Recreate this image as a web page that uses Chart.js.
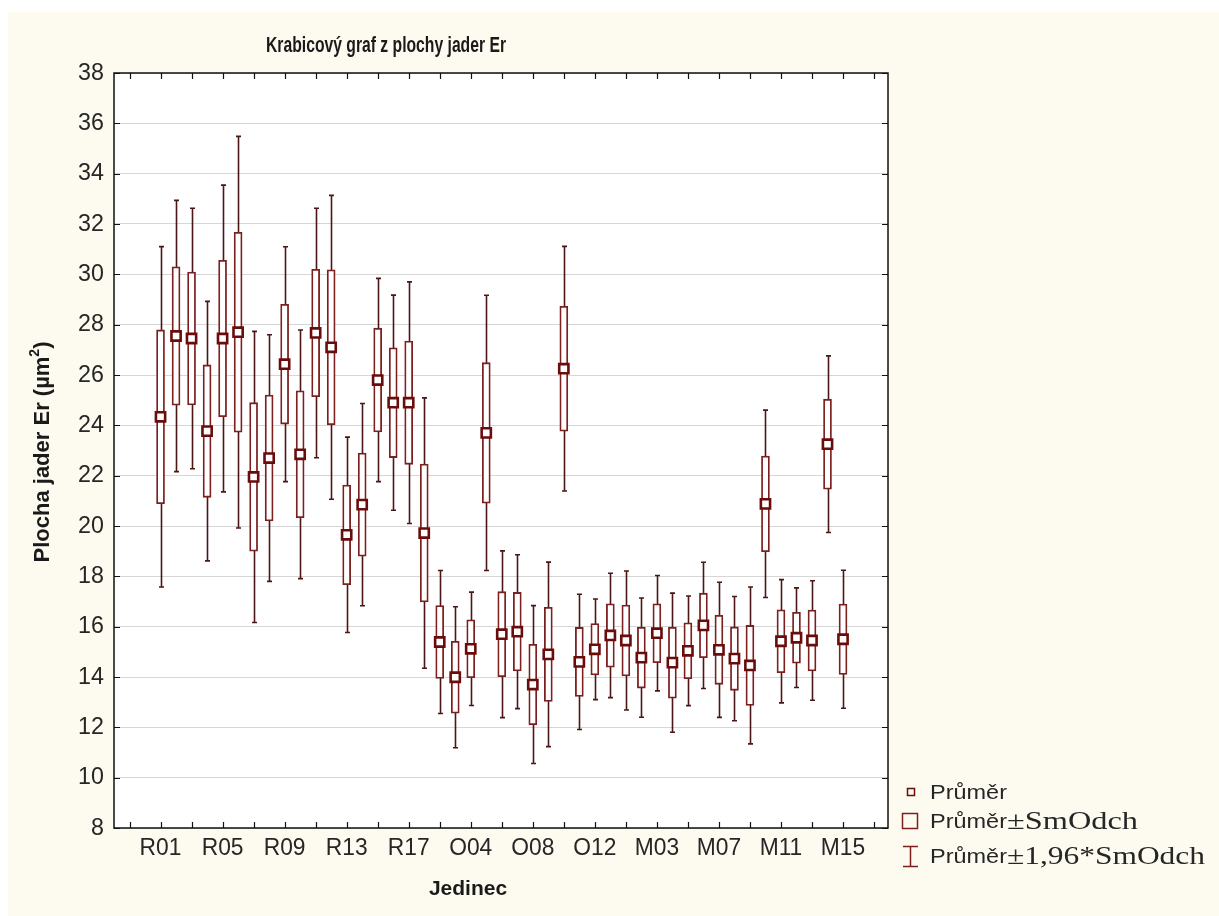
<!DOCTYPE html>
<html>
<head>
<meta charset="utf-8">
<title>Krabicový graf z plochy jader Er</title>
<script src="https://cdn.jsdelivr.net/npm/chart.js@4.4.1/dist/chart.umd.min.js"></script>
<style>
  html, body { margin: 0; padding: 0; background: #ffffff; }
  #wrap { position: relative; width: 1219px; height: 916px; }
  canvas { display: block; }
</style>
</head>
<body>
<div id="wrap"><canvas id="chart" width="1219" height="916"></canvas></div>
<script>
// Individuals (Jedinec): R01–R17, O01–O13, M01–M15
const categories = [
  'R01','R02','R03','R04','R05','R06','R07','R08','R09','R10','R11','R12','R13','R14','R15','R16','R17',
  'O01','O02','O03','O04','O05','O06','O07','O08','O09','O10','O11','O12','O13',
  'M01','M02','M03','M04','M05','M06','M07','M08','M09','M10','M11','M12','M13','M14','M15'
];

// Mean nucleus area (µm²) per individual
const means = [
  24.34, 27.55, 27.45, 23.77, 27.45, 27.70, 21.95, 22.70, 26.43, 22.85, 27.67, 27.10, 19.65, 20.85, 25.80, 24.90, 24.90,
  19.72, 15.39, 13.99, 15.12, 23.70, 15.70, 15.80, 13.70, 14.90, 26.25, 14.60, 15.10, 15.65,
  15.45, 14.77, 15.74, 14.57, 15.04, 16.05, 15.08, 14.73, 14.46, 20.88, 15.42, 15.56, 15.45, 23.25, 15.50
];

// Standard deviation (SmOdch) per individual
const sds = [
  3.45, 2.75, 2.64, 2.63, 3.11, 3.97, 2.95, 2.50, 2.38, 2.52, 2.53, 3.08, 1.98, 2.05, 2.06, 2.18, 2.45,
  2.74, 1.45, 1.43, 1.15, 2.79, 1.69, 1.56, 1.60, 1.87, 2.48, 1.37, 1.02, 1.26,
  1.41, 1.21, 1.17, 1.41, 1.11, 1.28, 1.37, 1.26, 1.59, 1.90, 1.25, 1.01, 1.21, 1.79, 1.40
];

// Labelled categories on the x axis and value ticks on the y axis
const xTickLabels = ['R01','R05','R09','R13','R17','O04','O08','O12','M03','M07','M11','M15'];
const yTickValues = [8,10,12,14,16,18,20,22,24,26,28,30,32,34,36,38];

const WHISKER_FACTOR = 1.96;   // Průměr ± 1,96*SmOdch

const BG_CREAM = '#fdfaef';
const BOX_COLOR = '#7c1f1f';
const MEAN_COLOR = '#6a0c0c';
const WHISKER_COLOR = '#4a1616';
const INK = '#262626';
const GRID = '#d6d6d6';

const boxData = categories.map((c, i) => ({ x: i, y: [means[i] - sds[i], means[i] + sds[i]] }));
const meanData = categories.map((c, i) => ({ x: i, y: means[i] }));

// Draw text, optionally squeezed horizontally to a given width
function drawText(ctx, text, x, y, font, opts = {}) {
  ctx.save();
  ctx.font = font;
  ctx.fillStyle = opts.color || INK;
  ctx.textBaseline = 'middle';
  ctx.textAlign = 'left';
  const natural = ctx.measureText(text).width;
  const k = opts.width ? opts.width / natural : (opts.k || 1);
  const w = natural * k;
  const align = opts.align || 'left';
  const x0 = align === 'right' ? x - w : align === 'center' ? x - w / 2 : x;
  ctx.translate(x0, y);
  ctx.scale(k, 1);
  ctx.fillText(text, 0, 0);
  ctx.restore();
  return w;
}

const decorPlugin = {
  id: 'statDecor',
  beforeDraw(chart) {
    const { ctx, chartArea: a, width, height } = chart;
    ctx.save();
    ctx.fillStyle = '#ffffff';
    ctx.fillRect(0, 0, width, height);
    ctx.fillStyle = BG_CREAM;
    ctx.fillRect(8, 12, width - 8, height - 12);
    ctx.fillStyle = '#ffffff';
    ctx.fillRect(a.left, a.top, a.right - a.left, a.bottom - a.top);
    ctx.restore();
  },
  beforeDatasetsDraw(chart) {
    // whiskers: mean ± 1.96·SD with short caps
    const { ctx, scales: { x, y } } = chart;
    ctx.save();
    ctx.strokeStyle = WHISKER_COLOR;
    ctx.lineWidth = 1.6;
    const cap = 2.5;
    categories.forEach((c, i) => {
      const px = Math.round(x.getPixelForValue(i)) + 0.5;
      const top = y.getPixelForValue(means[i] + WHISKER_FACTOR * sds[i]);
      const bot = y.getPixelForValue(means[i] - WHISKER_FACTOR * sds[i]);
      ctx.beginPath();
      ctx.moveTo(px, top); ctx.lineTo(px, bot);
      ctx.moveTo(px - cap, top); ctx.lineTo(px + cap, top);
      ctx.moveTo(px - cap, bot); ctx.lineTo(px + cap, bot);
      ctx.stroke();
    });
    ctx.restore();
  },
  afterDraw(chart) {
    const { ctx, chartArea: a, scales: { x, y } } = chart;
    ctx.save();

    // plot frame
    ctx.strokeStyle = '#111111';
    ctx.lineWidth = 1.5;
    ctx.strokeRect(a.left, a.top, a.right - a.left, a.bottom - a.top);

    // inward tick marks on all four sides
    ctx.lineWidth = 1.2;
    ctx.beginPath();
    yTickValues.forEach(v => {
      const py = Math.round(y.getPixelForValue(v)) + 0.5;
      ctx.moveTo(a.left, py); ctx.lineTo(a.left + 6, py);
      ctx.moveTo(a.right, py); ctx.lineTo(a.right - 6, py);
    });
    for (let i = -2; i <= 46; i += 2) {
      const px = Math.round(x.getPixelForValue(i)) + 0.5;
      ctx.moveTo(px, a.bottom); ctx.lineTo(px, a.bottom - 6);
      ctx.moveTo(px, a.top); ctx.lineTo(px, a.top + 6);
    }
    ctx.stroke();

    // y tick labels
    yTickValues.forEach(v => {
      drawText(ctx, String(v), a.left - 10, y.getPixelForValue(v), '24px "Liberation Sans", Arial, sans-serif', { align: 'right', k: 0.97 });
    });
    // x tick labels
    xTickLabels.forEach(lab => {
      const i = categories.indexOf(lab);
      drawText(ctx, lab, x.getPixelForValue(i), a.bottom + 20, '24px "Liberation Sans", Arial, sans-serif', { align: 'center', k: 0.95 });
    });

    // chart title
    drawText(ctx, 'Krabicový graf z plochy jader Er', 386, 46, 'bold 22px "Liberation Sans", Arial, sans-serif', { align: 'center', width: 240, color: '#1a1a1a' });

    // axis titles
    drawText(ctx, 'Jedinec', 468, 889, 'bold 21px "Liberation Sans", Arial, sans-serif', { align: 'center', color: '#1a1a1a' });
    ctx.save();
    ctx.translate(43, 452);
    ctx.rotate(-Math.PI / 2);
    const big = 'bold 22px "Liberation Sans", Arial, sans-serif';
    const sup = 'bold 14px "Liberation Sans", Arial, sans-serif';
    ctx.font = big;
    const t1 = 'Plocha jader Er (µm';
    const w1 = ctx.measureText(t1).width;
    const w2 = ctx.measureText(')').width;
    ctx.font = sup;
    const wSup = ctx.measureText('2').width;
    const total = w1 + wSup + w2;
    ctx.fillStyle = '#1a1a1a';
    ctx.textBaseline = 'middle';
    ctx.textAlign = 'left';
    ctx.font = big;
    ctx.fillText(t1, -total / 2, 0);
    ctx.font = sup;
    ctx.fillText('2', -total / 2 + w1, -8);
    ctx.font = big;
    ctx.fillText(')', -total / 2 + w1 + wSup, 0);
    ctx.restore();

    // legend
    const sans = '21px "Liberation Sans", Arial, sans-serif';
    const serif = '25px "Liberation Serif", "Times New Roman", serif';
    ctx.lineWidth = 1.5;
    ctx.strokeStyle = MEAN_COLOR;
    ctx.strokeRect(907.5, 788.5, 7, 7);
    drawText(ctx, 'Průměr', 930, 793, sans, { width: 77 });

    ctx.strokeStyle = BOX_COLOR;
    ctx.strokeRect(902.5, 813.5, 15, 15);
    let w = drawText(ctx, 'Průměr', 930, 822, sans, { width: 77 });
    drawText(ctx, '±SmOdch', 930 + w, 822, serif, { width: 1138 - 930 - w });

    ctx.strokeStyle = BOX_COLOR;
    ctx.beginPath();
    ctx.moveTo(910.5, 846); ctx.lineTo(910.5, 866);
    ctx.moveTo(903, 846.5); ctx.lineTo(918, 846.5);
    ctx.moveTo(903, 866.5); ctx.lineTo(918, 866.5);
    ctx.stroke();
    w = drawText(ctx, 'Průměr', 930, 857, sans, { width: 77 });
    drawText(ctx, '±1,96*SmOdch', 930 + w, 857, serif, { width: 1205 - 930 - w });

    ctx.restore();
  }
};

new Chart(document.getElementById('chart'), {
  type: 'bar',
  data: {
    datasets: [
      {
        type: 'scatter',
        label: 'Průměr',
        data: meanData,
        pointStyle: 'rect',
        pointRadius: 6.5,
        pointBorderWidth: 2.6,
        borderColor: MEAN_COLOR,
        backgroundColor: '#ffffff',
        order: 1
      },
      {
        type: 'bar',
        label: 'Průměr±SmOdch',
        data: boxData,
        backgroundColor: '#ffffff',
        borderColor: BOX_COLOR,
        borderWidth: 1.8,
        borderSkipped: false,
        barThickness: 8,
        order: 2
      }
    ]
  },
  options: {
    responsive: false,
    animation: false,
    devicePixelRatio: 1,
    layout: { padding: { left: 0, top: 73, right: 1219 - 888, bottom: 0 } },
    plugins: {
      legend: { display: false },
      title: { display: false },
      tooltip: { enabled: false }
    },
    scales: {
      x: {
        type: 'linear',
        offset: false,
        min: -3,
        max: 46.9,
        grid: { display: false, drawTicks: false, offset: false },
        border: { display: false },
        ticks: { display: false, stepSize: 2 },
        afterFit(scale) { scale.height = 916 - 828; }
      },
      y: {
        min: 8,
        max: 38,
        grid: { color: GRID, lineWidth: 1, drawTicks: false },
        border: { display: false },
        ticks: { display: false, stepSize: 2 },
        afterFit(scale) { scale.width = 114; }
      }
    }
  },
  plugins: [decorPlugin]
});
</script>
</body>
</html>
